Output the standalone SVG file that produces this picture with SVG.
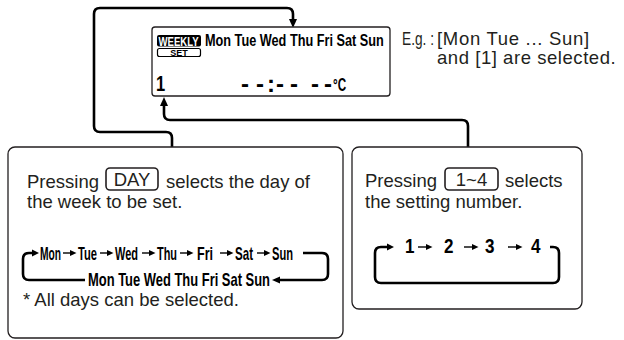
<svg xmlns="http://www.w3.org/2000/svg" width="624" height="340" viewBox="0 0 624 340">
<style>
.t{font-family:'Liberation Sans',Arial,sans-serif;font-size:18.5px;fill:#231f20}
.b{font-family:'Liberation Sans',Arial,sans-serif;font-weight:bold;fill:#000}
.box{fill:#fff;stroke:#231f20;stroke-width:1.3}
.btn{fill:none;stroke:#231f20;stroke-width:1.6}
.con{fill:none;stroke:#000;stroke-width:2.6}
.sa{stroke:#000;stroke-width:1.4;marker-end:url(#sm)}
</style>
<defs>
<marker id="sm" markerUnits="userSpaceOnUse" markerWidth="7" markerHeight="6" refX="3" refY="3" orient="auto"><path d="M0,0 L6.5,3 L0,6 Z" fill="#000"/></marker>
<marker id="bm" markerUnits="userSpaceOnUse" markerWidth="9" markerHeight="8" refX="4" refY="4" orient="auto"><path d="M0,0 L9,4 L0,8 Z" fill="#000"/></marker>
</defs>
<rect width="624" height="340" fill="#fff"/>

<g id="connectors">
<path class="con" d="M172,147 V138 Q172,132 166,132 H100 Q94,132 94,126 V14 Q94,8 100,8 H287 Q293,8 293,14 V23" marker-end="url(#bm)"/>
<path class="con" d="M468,147 V126 Q468,120 462,120 H170 Q164,120 164,114 V102" marker-end="url(#bm)"/>
</g>

<g id="display">
<rect class="box" x="152" y="27" width="238" height="69" rx="3"/>
<rect x="157" y="35" width="44" height="11.5" rx="2" fill="#000"/>
<text class="b" transform="translate(158.5,45.5) scale(0.71,1)" font-size="13.5" style="fill:#fff">WEEKLY</text>
<text class="b" transform="translate(205,46) scale(0.77,1)" font-size="16.5">Mon Tue Wed Thu Fri Sat Sun</text>
<rect x="157.5" y="48.5" width="43" height="8" rx="2" fill="none" stroke="#000" stroke-width="1.2"/>
<text class="b" x="179" y="55.8" font-size="9" text-anchor="middle">SET</text>
<text class="b" transform="translate(156,91) scale(0.75,1)" font-size="22">1</text>
<text class="b" x="241 256 267 276 290 311 324" y="92" font-size="24">--:----</text>
<text class="b" transform="translate(333,91) scale(0.65,1)" font-size="18">°C</text>
</g>

<g id="note">
<text class="t" transform="translate(402,45) scale(0.74,1)" font-size="19">E.g. :</text>
<text class="t" x="437" y="45" font-size="19" letter-spacing="0.7">[Mon Tue ... Sun]</text>
<text class="t" x="437" y="64" font-size="19" letter-spacing="0.55">and [1] are selected.</text>
</g>

<g id="day-box">
<rect class="box" x="8" y="147" width="335" height="191" rx="7"/>
<text class="t" x="27" y="188">Pressing</text>
<rect class="btn" x="106" y="168" width="52" height="22" rx="4"/>
<text class="t" x="132" y="186" text-anchor="middle" font-size="18">DAY</text>
<text class="t" x="166" y="188">selects the day of</text>
<text class="t" x="27" y="208">the week to be set.</text>
<text class="b" x="40" y="260" font-size="19" textLength="21" lengthAdjust="spacingAndGlyphs">Mon</text>
<text class="b" x="78" y="260" font-size="19" textLength="19" lengthAdjust="spacingAndGlyphs">Tue</text>
<text class="b" x="115" y="260" font-size="19" textLength="23" lengthAdjust="spacingAndGlyphs">Wed</text>
<text class="b" x="157" y="260" font-size="19" textLength="20" lengthAdjust="spacingAndGlyphs">Thu</text>
<text class="b" x="197" y="260" font-size="19" textLength="16" lengthAdjust="spacingAndGlyphs">Fri</text>
<text class="b" x="235" y="260" font-size="19" textLength="18" lengthAdjust="spacingAndGlyphs">Sat</text>
<text class="b" x="272" y="260" font-size="19" textLength="21" lengthAdjust="spacingAndGlyphs">Sun</text>
<text class="b" x="88" y="285.5" font-size="19" textLength="182" lengthAdjust="spacingAndGlyphs">Mon Tue Wed Thu Fri Sat Sun</text>
<line class="sa" x1="63" y1="253" x2="73" y2="253"/>
<line class="sa" x1="100" y1="253" x2="110" y2="253"/>
<line class="sa" x1="142" y1="253" x2="152" y2="253"/>
<line class="sa" x1="180" y1="253" x2="190" y2="253"/>
<line class="sa" x1="220" y1="253" x2="230" y2="253"/>
<line class="sa" x1="257" y1="253" x2="267" y2="253"/>
<path class="con" d="M35,253 H29 Q23,253 23,259 V274 Q23,280 29,280 H85"/>
<path d="M39,253 L32,249.5 L32,256.5 Z" fill="#000"/>
<path class="con" d="M303,253 H322 Q328,253 328,259 V274 Q328,280 322,280 H277"/>
<path d="M272,280 L280,276.5 L280,283.5 Z" fill="#000"/>
<text class="t" x="23" y="306">*  All days can be selected.</text>
</g>

<g id="num-box">
<rect class="box" x="352" y="147" width="230" height="162" rx="7"/>
<text class="t" x="365" y="187">Pressing</text>
<rect class="btn" x="445" y="168" width="53" height="22" rx="4"/>
<text class="t" x="471.5" y="186" text-anchor="middle" font-size="18">1~4</text>
<text class="t" x="505" y="187">selects</text>
<text class="t" x="365" y="208">the setting number.</text>
<text class="b" x="405" y="253" font-size="19.5" textLength="9.5" lengthAdjust="spacingAndGlyphs">1</text>
<text class="b" x="444" y="253" font-size="19.5" textLength="9.5" lengthAdjust="spacingAndGlyphs">2</text>
<text class="b" x="485" y="253" font-size="19.5" textLength="9.5" lengthAdjust="spacingAndGlyphs">3</text>
<text class="b" x="531" y="253" font-size="19.5" textLength="9.5" lengthAdjust="spacingAndGlyphs">4</text>
<line class="sa" x1="418" y1="247" x2="429" y2="247"/>
<line class="sa" x1="464" y1="247" x2="475" y2="247"/>
<line class="sa" x1="508" y1="247" x2="519" y2="247"/>
<path class="con" d="M389,247 H381 Q375,247 375,253 V277 Q375,283 381,283 H553 Q559,283 559,277 V253 Q559,247 553,247 H550"/>
<path d="M394,247 L387,243.5 L387,250.5 Z" fill="#000"/>
</g>
</svg>
